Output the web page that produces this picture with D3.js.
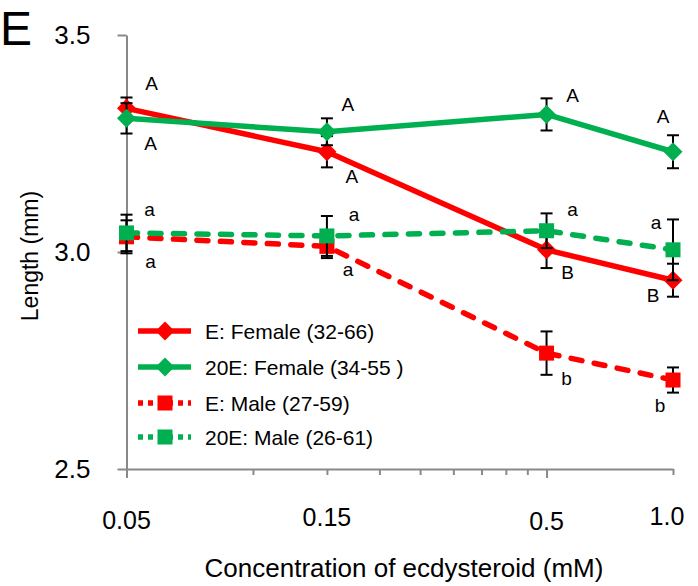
<!DOCTYPE html>
<html>
<head>
<meta charset="utf-8">
<script src="https://cdn.jsdelivr.net/npm/d3@7"></script>
<style>
  html, body { margin: 0; padding: 0; background: #fff; }
  svg text { font-family: "Liberation Sans", Arial, sans-serif; fill: #000; }
</style>
</head>
<body>
<div id="chart"></div>
<script>
// concentrations (mM) on log axis
var concentrations = [0.05, 0.15, 0.5, 1.0];
var xTickValues = [0.05, 0.1, 0.15, 0.2, 0.25, 0.3, 0.35, 0.4, 0.45, 0.5, 1.0];
var xLabelValues = [0.05, 0.15, 0.5, 1.0];
var xLabelTexts = ["0.05", "0.15", "0.5", "1.0"];
var yTickValues = [2.5, 3.0, 3.5];

var seriesNames = ["E: Female (32-66)", "20E: Female (34-55 )", "E: Male (27-59)", "20E: Male (26-61)"];

// mean length (mm)
var femaleE = [3.331, 3.231, 3.005, 2.935];
var female20E = [3.308, 3.277, 3.317, 3.231];
var maleE = [3.035, 3.013, 2.767, 2.705];
var male20E = [3.044, 3.037, 3.049, 3.005];

// error bars
var femaleE_err = [0.025, 0.036, 0.042, 0.038];
var female20E_err = [0.035, 0.031, 0.037, 0.038];
var maleE_err = [0.038, 0.027, 0.050, 0.029];
var male20E_err = [0.042, 0.046, 0.040, 0.070];

// significance letters
var femaleE_sig = ["A", "A", "B", "B"];
var female20E_sig = ["A", "A", "A", "A"];
var maleE_sig = ["a", "a", "b", "b"];
var male20E_sig = ["a", "a", "a", "a"];

var RED = "#ff0000", GREEN = "#00b050", AXIS = "#898989";

var series = [
    {name: seriesNames[0], vals: femaleE, err: femaleE_err, sig: femaleE_sig, color: RED, marker: "diamond", dashed: false,
        off: [[25, -25], [25, 25], [21, 23], [-20, 15]]},
    {name: seriesNames[1], vals: female20E, err: female20E_err, sig: female20E_sig, color: GREEN, marker: "diamond", dashed: false,
        off: [[24, 25], [21, -27], [26, -19], [-10, -35]]},
    {name: seriesNames[2], vals: maleE, err: maleE_err, sig: maleE_sig, color: RED, marker: "square", dashed: true,
        off: [[24, 25], [21, 23], [20, 25], [-13, 25]]},
    {name: seriesNames[3], vals: male20E, err: male20E_err, sig: male20E_sig, color: GREEN, marker: "square", dashed: true,
        off: [[23, -23], [27, -21], [26, -21], [-17, -27]]}
];

var W = 698, H = 586;
var svg = d3.select("#chart").append("svg")
    .attr("width", W)
    .attr("height", H);

var x = d3.scaleLog().domain([0.05, 1.0]).range([126.5, 673]);
var y = d3.scaleLinear().domain([2.5, 3.5]).range([469, 35]);

// panel letter
svg.append("text")
    .attr("x", 0)
    .attr("y", 45)
    .style("font-size", "48px")
    .text("E");

// y axis
var yAxis = svg.append("g")
    .attr("transform", "translate(" + x(0.05) + ",0)")
    .call(d3.axisLeft(y).tickValues(yTickValues).tickSize(9).tickSizeOuter(0)
        .tickPadding(27).tickFormat(d3.format(".1f")));
yAxis.selectAll("path, line").attr("stroke", AXIS).attr("stroke-width", 2);
yAxis.selectAll("text").style("font-size", "26px").attr("font-family", null);

// x axis
var xAxis = svg.append("g")
    .attr("transform", "translate(0," + y(2.5) + ")")
    .call(d3.axisBottom(x).tickValues(xTickValues).tickSize(6).tickSizeOuter(0).tickFormat(""));
xAxis.selectAll("path, line").attr("stroke", AXIS).attr("stroke-width", 2);
xAxis.selectAll(".tick line").attr("y2", function (d) {
    return (d === 0.05 || d === 0.5) ? 9 : 6;
});

var labelDy = [520, 517, 521, 516];
var labelDx = [0, 0, 0, -6];
svg.selectAll(".xlab")
    .data(xLabelValues)
    .enter().append("text")
    .attr("class", "xlab")
    .attr("x", function (d, i) { return x(d) + labelDx[i]; })
    .attr("y", function (d, i) { return labelDy[i]; })
    .attr("text-anchor", "middle")
    .attr("dominant-baseline", "central")
    .style("font-size", "25px")
    .text(function (d, i) { return xLabelTexts[i]; });

// axis titles
svg.append("text")
    .attr("x", 404)
    .attr("y", 577)
    .attr("text-anchor", "middle")
    .style("font-size", "26px")
    .text("Concentration of ecdysteroid (mM)");

svg.append("text")
    .attr("transform", "translate(30,256) rotate(-90)")
    .attr("text-anchor", "middle")
    .attr("dominant-baseline", "central")
    .style("font-size", "23px")
    .text("Length (mm)");

var line = d3.line()
    .x(function (d, i) { return x(concentrations[i]); })
    .y(function (d) { return y(d); });

function drawMarker(g, type, color, cx, cy) {
    if (type === "diamond") {
        g.append("path")
            .attr("d", "M" + cx + "," + (cy - 9.5) + "L" + (cx + 9.5) + "," + cy +
                "L" + cx + "," + (cy + 9.5) + "L" + (cx - 9.5) + "," + cy + "Z")
            .attr("fill", color);
    } else {
        g.append("rect")
            .attr("x", cx - 7.5).attr("y", cy - 7.5)
            .attr("width", 15).attr("height", 15)
            .attr("fill", color);
    }
}

series.forEach(function (s) {
    var g = svg.append("g");
    g.append("path")
        .datum(s.vals)
        .attr("d", line)
        .attr("fill", "none")
        .attr("stroke", s.color)
        .attr("stroke-width", 5.5)
        .attr("stroke-linecap", s.dashed ? "round" : "butt")
        .attr("stroke-linejoin", "round")
        .attr("stroke-dasharray", s.dashed ? "11,12.5" : null);

    // error bars
    s.vals.forEach(function (v, i) {
        var cx = x(concentrations[i]);
        var y0 = y(v - s.err[i]), y1 = y(v + s.err[i]);
        var eb = g.append("g").attr("stroke", "#000").attr("stroke-width", 2);
        eb.append("line").attr("x1", cx).attr("x2", cx).attr("y1", y0).attr("y2", y1);
        eb.append("line").attr("x1", cx - 6).attr("x2", cx + 6).attr("y1", y0).attr("y2", y0);
        eb.append("line").attr("x1", cx - 6).attr("x2", cx + 6).attr("y1", y1).attr("y2", y1);
    });

    s.vals.forEach(function (v, i) {
        drawMarker(g, s.marker, s.color, x(concentrations[i]), y(v));
    });

    s.vals.forEach(function (v, i) {
        g.append("text")
            .attr("x", x(concentrations[i]) + s.off[i][0])
            .attr("y", y(v) + s.off[i][1])
            .attr("text-anchor", "middle")
            .attr("dominant-baseline", "central")
            .style("font-size", "19px")
            .text(s.sig[i]);
    });
});

// legend
var legendY = [331, 367, 403, 437];
var legend = svg.append("g");
series.forEach(function (s, i) {
    var lg = legend.append("g").attr("transform", "translate(0," + legendY[i] + ")");
    lg.append("line")
        .attr("x1", 138).attr("x2", 191)
        .attr("y1", 0).attr("y2", 0)
        .attr("stroke", s.color)
        .attr("stroke-width", 5.5)
        .attr("stroke-dasharray", s.dashed ? "5,5" : null);
    drawMarker(lg, s.marker, s.color, 165, 0);
    lg.append("text")
        .attr("x", 205)
        .attr("y", 0)
        .attr("dominant-baseline", "central")
        .style("font-size", "21px")
        .text(s.name);
});
</script>
</body>
</html>
